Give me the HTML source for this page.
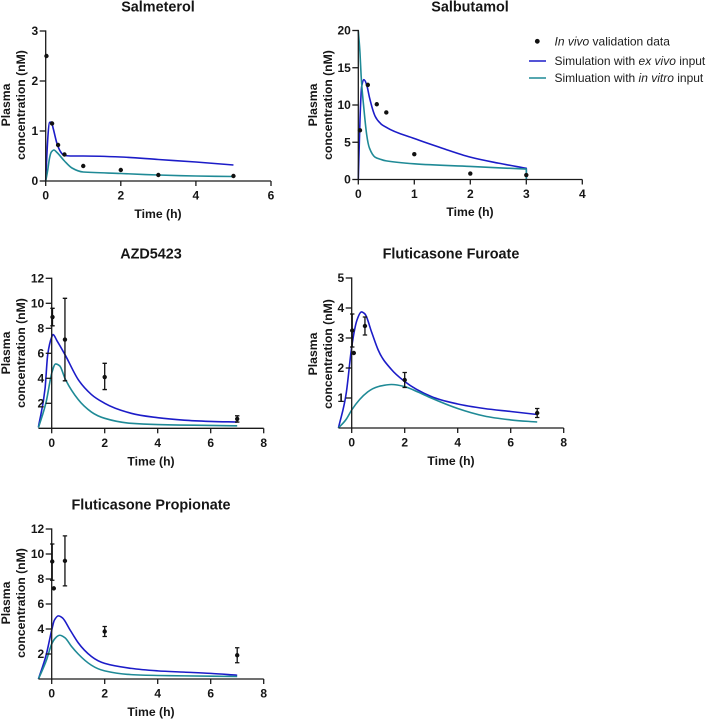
<!DOCTYPE html>
<html>
<head>
<meta charset="utf-8">
<style>
html,body{margin:0;padding:0;background:#fff;}
svg{display:block;}
text{font-family:"Liberation Sans",sans-serif;fill:#161616;}
.tick{font-size:12px;font-weight:bold;}
.axis-title{font-size:12.2px;font-weight:bold;}
.chart-title{font-size:14.4px;font-weight:bold;}
.legend-text{font-size:12px;font-weight:normal;fill:#1c1c1c;}
</style>
</head>
<body>
<svg id="figure" width="708" height="720" viewBox="0 0 708 720" xmlns="http://www.w3.org/2000/svg">
  <g id="legend">
    <g>
      <circle cx="537.3" cy="41.3" r="2.4" fill="#111"></circle>
      <text class="legend-text" x="554.5" y="45.5"><tspan font-style="italic">In vivo</tspan> validation data</text>
    </g>
    <g>
      <line x1="529" x2="546" y1="61" y2="61" stroke="#1c1cc8" stroke-width="1.6"></line>
      <text class="legend-text" x="554.5" y="65.2">Simulation with <tspan font-style="italic">ex vivo</tspan> input</text>
    </g>
    <g>
      <line x1="529" x2="546" y1="78" y2="78" stroke="#1f8a96" stroke-width="1.6"></line>
      <text class="legend-text" x="554.5" y="82.2">Simluation with <tspan font-style="italic">in vitro</tspan> input</text>
    </g>
  </g>
</svg>
<script>
// Salmeterol
const salmeterolXTicks = [0, 2, 4, 6];
const salmeterolYTicks = [0, 1, 2, 3];
const salmeterolExVivoTime = [0, 0.03, 0.06, 0.1, 0.15, 0.2, 0.3, 0.4, 0.5, 0.7, 1, 2, 3, 4, 5];
const salmeterolExVivoConc = [0, 0.5, 0.9, 1.17, 1.18, 1.05, 0.75, 0.58, 0.51, 0.5, 0.5, 0.48, 0.43, 0.38, 0.32];
const salmeterolInVitroTime = [0, 0.05, 0.1, 0.15, 0.22, 0.3, 0.5, 0.7, 1, 2, 3, 4, 5];
const salmeterolInVitroConc = [0, 0.2, 0.45, 0.58, 0.62, 0.57, 0.4, 0.26, 0.18, 0.15, 0.12, 0.1, 0.09];
const salmeterolObsTime = [0.02, 0.17, 0.33, 0.5, 1, 2, 3, 5];
const salmeterolObsConc = [2.5, 1.15, 0.72, 0.53, 0.3, 0.22, 0.12, 0.1];
const salmeterolObsLow = [];
const salmeterolObsHigh = [];

// Salbutamol
const salbutamolXTicks = [0, 1, 2, 3, 4];
const salbutamolYTicks = [0, 5, 10, 15, 20];
const salbutamolExVivoTime = [0, 0.03, 0.06, 0.1, 0.15, 0.2, 0.3, 0.4, 0.5, 1, 1.5, 2, 2.5, 3, 3];
const salbutamolExVivoConc = [0, 8, 12.5, 13.4, 12.7, 11, 8.5, 7.5, 7, 5.5, 4.2, 3, 2.2, 1.5, 0];
const salbutamolInVitroTime = [0, 0.03, 0.05, 0.1, 0.15, 0.2, 0.3, 0.4, 0.5, 1, 2, 3, 3];
const salbutamolInVitroConc = [20, 17, 14, 9.5, 6, 4.2, 3, 2.7, 2.5, 2.1, 1.75, 1.4, 0];
const salbutamolObsTime = [0.03, 0.17, 0.33, 0.5, 1, 2, 3];
const salbutamolObsConc = [6.6, 12.7, 10.1, 9, 3.4, 0.8, 0.6];
const salbutamolObsLow = [];
const salbutamolObsHigh = [];

// AZD5423
const azdXTicks = [0, 2, 4, 6, 8];
const azdYTicks = [2, 4, 6, 8, 10, 12];
const azdExVivoTime = [-0.5, -0.25, -0.15, 0, 0.05, 0.2, 0.5, 1, 1.5, 2, 3, 4, 5, 6, 7];
const azdExVivoConc = [0.1, 3.2, 5.9, 7.3, 7.5, 7, 5.9, 3.9, 2.7, 2, 1.2, 0.85, 0.65, 0.55, 0.5];
const azdInVitroTime = [-0.5, -0.2, 0, 0.15, 0.3, 0.5, 1, 1.5, 2, 3, 4, 7];
const azdInVitroConc = [0.05, 2.2, 4.4, 5.15, 5, 4, 2.3, 1.3, 0.8, 0.4, 0.3, 0.2];
const azdObsTime = [0.03, 0.5, 2, 7];
const azdObsConc = [8.9, 7.1, 4.1, 0.75];
const azdObsLow = [8.2, 3.8, 3.1, 0.5];
const azdObsHigh = [9.6, 10.4, 5.2, 1];

// Fluticasone Furoate
const furoateXTicks = [0, 2, 4, 6, 8];
const furoateYTicks = [1, 2, 3, 4, 5];
const furoateExVivoTime = [-0.5, -0.2, 0, 0.2, 0.37, 0.5, 0.75, 1, 1.5, 2, 3, 4, 5, 6, 7];
const furoateExVivoConc = [0, 1.2, 2.7, 3.6, 3.87, 3.8, 3.2, 2.6, 1.95, 1.55, 1.05, 0.8, 0.65, 0.55, 0.45];
const furoateInVitroTime = [-0.5, -0.2, 0, 0.3, 0.6, 1, 1.5, 2, 2.5, 3, 4, 5, 6, 7];
const furoateInVitroConc = [0, 0.3, 0.6, 0.95, 1.2, 1.38, 1.45, 1.38, 1.2, 1, 0.65, 0.4, 0.27, 0.2];
const furoateObsTime = [0.02, 0.08, 0.5, 2, 7];
const furoateObsConc = [3.25, 2.5, 3.4, 1.6, 0.5];
const furoateObsLow = [2.7, 2.5, 3.1, 1.35, 0.35];
const furoateObsHigh = [3.8, 2.5, 3.7, 1.85, 0.65];

// Fluticasone Propionate
const propionateXTicks = [0, 2, 4, 6, 8];
const propionateYTicks = [2, 4, 6, 8, 10, 12];
const propionateExVivoTime = [-0.5, -0.2, 0, 0.1, 0.25, 0.4, 0.7, 1, 1.5, 2, 3, 4, 5, 6, 7];
const propionateExVivoConc = [0, 2, 3.9, 4.7, 5.05, 4.9, 3.9, 2.9, 1.8, 1.25, 0.85, 0.65, 0.55, 0.45, 0.3];
const propionateInVitroTime = [-0.5, -0.2, 0, 0.15, 0.3, 0.5, 0.75, 1, 1.5, 2, 3, 4, 5, 7];
const propionateInVitroConc = [0, 1.5, 2.8, 3.3, 3.5, 3.3, 2.6, 2, 1.1, 0.65, 0.35, 0.28, 0.25, 0.2];
const propionateObsTime = [0.02, 0.08, 0.5, 2, 7];
const propionateObsConc = [9.4, 7.25, 9.45, 3.8, 1.9];
const propionateObsLow = [7.9, 7.25, 7.45, 3.4, 1.3];
const propionateObsHigh = [10.8, 7.25, 11.45, 4.2, 2.5];

const NS = 'http://www.w3.org/2000/svg';
const figure = document.getElementById('figure');
const BLUE = '#1c1cc8';
const TEAL = '#1f8a96';
const INK = '#1a1a1a';

function make(parent, tag, attrs, text) {
  const el = document.createElementNS(NS, tag);
  for (const k in attrs) el.setAttribute(k, attrs[k]);
  if (text !== undefined) el.textContent = text;
  parent.appendChild(el);
  return el;
}

// Monotone cubic interpolation through pixel points; vertical runs stay straight.
function smoothPath(px) {
  const n = px.length;
  const sec = [];
  for (let i = 0; i < n - 1; i++) {
    const h = px[i + 1][0] - px[i][0];
    sec.push(h === 0 ? null : (px[i + 1][1] - px[i][1]) / h);
  }
  const m = [];
  for (let i = 0; i < n; i++) {
    const s0 = i > 0 ? sec[i - 1] : null;
    const s1 = i < n - 1 ? sec[i] : null;
    if (s0 === null && s1 === null) { m.push(0); continue; }
    if (s0 === null) { m.push(s1); continue; }
    if (s1 === null) { m.push(s0); continue; }
    if (s0 * s1 <= 0) { m.push(0); continue; }
    const h0 = px[i][0] - px[i - 1][0];
    const h1 = px[i + 1][0] - px[i][0];
    const p = (s0 * h1 + s1 * h0) / (h0 + h1);
    const sign = s0 > 0 ? 1 : -1;
    m.push(sign * Math.min(Math.abs(s0) * 1.6, Math.abs(s1) * 1.6, Math.abs(p)));
  }
  let d = 'M' + px[0][0].toFixed(2) + ' ' + px[0][1].toFixed(2);
  for (let i = 0; i < n - 1; i++) {
    const h = px[i + 1][0] - px[i][0];
    if (h === 0) { d += 'L' + px[i + 1][0].toFixed(2) + ' ' + px[i + 1][1].toFixed(2); continue; }
    const c1x = px[i][0] + h / 3, c1y = px[i][1] + m[i] * h / 3;
    const c2x = px[i + 1][0] - h / 3, c2y = px[i + 1][1] - m[i + 1] * h / 3;
    d += 'C' + c1x.toFixed(2) + ' ' + c1y.toFixed(2) + ' ' + c2x.toFixed(2) + ' ' + c2y.toFixed(2) + ' ' + px[i + 1][0].toFixed(2) + ' ' + px[i + 1][1].toFixed(2);
  }
  return d;
}

function drawPanel(cfg) {
  const g = make(figure, 'g', {});
  
  

  const sx = v => cfg.x0 + (v - cfg.xRef) * cfg.xScale;
  const sy = v => cfg.y0 - v * cfg.yScale;

  const title = make(g, 'text', {class: 'chart-title', x: cfg.cx, y: cfg.titleY, 'text-anchor': 'middle'}, cfg.title);
  
  

  // y axis title
  const yTitle = make(g, 'text', {class: 'axis-title', 'text-anchor': 'middle', transform: 'translate(' + cfg.yTitleX + ' ' + cfg.yTitleY + ') rotate(-90)'});
  
  
  make(yTitle, 'tspan', {x: 0, y: 0}, 'Plasma');
  make(yTitle, 'tspan', {x: 0, y: 15}, 'concentration (nM)');

  // x axis title
  const xTitle = make(g, 'text', {class: 'axis-title', x: cfg.cx, y: cfg.xTitleY, 'text-anchor': 'middle'}, 'Time (h)');
  
  

  // simulated curves
  const drawCurve = (t, c, color, name) => {
    const pts = t.map((v, i) => [sx(v), sy(c[i])]);
    const path = make(g, 'path', {d: smoothPath(pts), fill: 'none', stroke: color, 'stroke-width': 1.6, 'stroke-linejoin': 'round'});
    
    
  };
  drawCurve(cfg.exT, cfg.exC, BLUE, 'ex-vivo-line');
  drawCurve(cfg.viT, cfg.viC, TEAL, 'in-vitro-line');

  // axes
  const xAxis = make(g, 'line', {x1: sx(cfg.xMin), x2: sx(cfg.xMax), y1: sy(0), y2: sy(0), stroke: INK, 'stroke-width': 1.3});
  
  
  const yAxis = make(g, 'line', {x1: sx(0), x2: sx(0), y1: sy(0) + 0.65, y2: sy(cfg.yMax) - 0.65, stroke: INK, 'stroke-width': 1.3});
  
  

  cfg.xTicks.forEach(v => {
    const tick = make(g, 'line', {x1: sx(v), x2: sx(v), y1: sy(0), y2: sy(0) + 5, stroke: INK, 'stroke-width': 1.3});
    
    
    const label = make(g, 'text', {class: 'tick', x: sx(v), y: sy(0) + 18.5, 'text-anchor': 'middle'}, String(v));
    
    
  });
  cfg.yTicks.forEach(v => {
    const tick = make(g, 'line', {x1: sx(0) - 6, x2: sx(0), y1: sy(v), y2: sy(v), stroke: INK, 'stroke-width': 1.3});
    
    
    const label = make(g, 'text', {class: 'tick', x: sx(0) - 7.5, y: sy(v) + 4.2, 'text-anchor': 'end'}, String(v));
    
    
  });

  // observed data
  cfg.obT.forEach((t, i) => {
    const px = sx(t);
    if (cfg.obL.length && cfg.obL[i] !== cfg.obH[i]) {
      const bar = make(g, 'path', {
        d: 'M' + px + ' ' + sy(cfg.obL[i]) + 'V' + sy(cfg.obH[i]) +
           'M' + (px - 2.2) + ' ' + sy(cfg.obL[i]) + 'h4.4' +
           'M' + (px - 2.2) + ' ' + sy(cfg.obH[i]) + 'h4.4',
        fill: 'none', stroke: '#111', 'stroke-width': 1.3
      });
      
      
    }
    const dot = make(g, 'circle', {cx: px, cy: sy(cfg.obC[i]), r: 2.2, fill: '#111'});
    
    
  });
}

drawPanel({slug: 'salmeterol', title: 'Salmeterol', cx: 158, titleY: 11.5,
  x0: 45.7, xRef: 0, xScale: 37.55, xMin: 0, xMax: 6, y0: 181, yScale: 50, yMax: 3,
  yTitleX: 10, yTitleY: 105, xTitleY: 218,
  xTicks: salmeterolXTicks, yTicks: salmeterolYTicks,
  exT: salmeterolExVivoTime, exC: salmeterolExVivoConc, viT: salmeterolInVitroTime, viC: salmeterolInVitroConc,
  obT: salmeterolObsTime, obC: salmeterolObsConc, obL: salmeterolObsLow, obH: salmeterolObsHigh});

drawPanel({slug: 'salbutamol', title: 'Salbutamol', cx: 470, titleY: 11.5,
  x0: 358.3, xRef: 0, xScale: 56, xMin: 0, xMax: 4, y0: 179.5, yScale: 7.45, yMax: 20,
  yTitleX: 317, yTitleY: 105, xTitleY: 216,
  xTicks: salbutamolXTicks, yTicks: salbutamolYTicks,
  exT: salbutamolExVivoTime, exC: salbutamolExVivoConc, viT: salbutamolInVitroTime, viC: salbutamolInVitroConc,
  obT: salbutamolObsTime, obC: salbutamolObsConc, obL: salbutamolObsLow, obH: salbutamolObsHigh});

drawPanel({slug: 'azd5423', title: 'AZD5423', cx: 151, titleY: 258.5,
  x0: 51.7, xRef: 0, xScale: 26.5, xMin: -0.5, xMax: 8, y0: 428.3, yScale: 12.5, yMax: 12,
  yTitleX: 10, yTitleY: 353, xTitleY: 465.5,
  xTicks: azdXTicks, yTicks: azdYTicks,
  exT: azdExVivoTime, exC: azdExVivoConc, viT: azdInVitroTime, viC: azdInVitroConc,
  obT: azdObsTime, obC: azdObsConc, obL: azdObsLow, obH: azdObsHigh});

drawPanel({slug: 'fluticasone-furoate', title: 'Fluticasone Furoate', cx: 451, titleY: 258.5,
  x0: 351.7, xRef: 0, xScale: 26.5, xMin: -0.5, xMax: 8, y0: 428, yScale: 30, yMax: 5,
  yTitleX: 317, yTitleY: 354, xTitleY: 465,
  xTicks: furoateXTicks, yTicks: furoateYTicks,
  exT: furoateExVivoTime, exC: furoateExVivoConc, viT: furoateInVitroTime, viC: furoateInVitroConc,
  obT: furoateObsTime, obC: furoateObsConc, obL: furoateObsLow, obH: furoateObsHigh});

drawPanel({slug: 'fluticasone-propionate', title: 'Fluticasone Propionate', cx: 151, titleY: 509.5,
  x0: 51.7, xRef: 0, xScale: 26.5, xMin: -0.5, xMax: 8, y0: 679, yScale: 12.5, yMax: 12,
  yTitleX: 10, yTitleY: 603, xTitleY: 716,
  xTicks: propionateXTicks, yTicks: propionateYTicks,
  exT: propionateExVivoTime, exC: propionateExVivoConc, viT: propionateInVitroTime, viC: propionateInVitroConc,
  obT: propionateObsTime, obC: propionateObsConc, obL: propionateObsLow, obH: propionateObsHigh});
</script>
</body>
</html>
